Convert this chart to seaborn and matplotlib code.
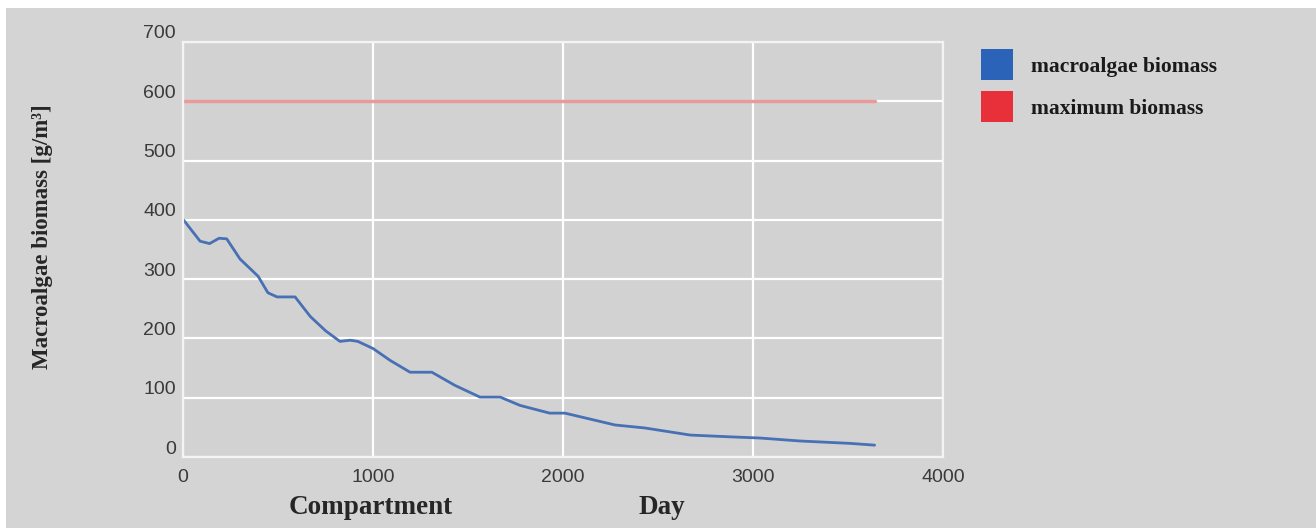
import numpy as np
import pandas as pd
import matplotlib.pyplot as plt
import matplotlib.transforms as mtransforms
from matplotlib.patches import Rectangle
import seaborn as sns

# values
days = [0, 90, 140, 190, 230, 300, 395, 447, 495, 590, 670, 750, 826, 880, 920,
        1000, 1090, 1195, 1310, 1430, 1563, 1670, 1774, 1930, 2010, 2274, 2430,
        2670, 2880, 3037, 3247, 3510, 3640]
biomass = [401, 364, 360, 369, 368, 334, 305, 277, 270, 270, 237, 213, 195, 197, 195,
           183, 163, 143, 143, 121, 101, 101, 87, 74, 74, 54, 49,
           37, 34, 32, 27, 23, 20]
max_days = [0, 3640]
max_biomass = [600, 600]

legend_labels = ["macroalgae biomass", "maximum biomass"]
legend_colors = ["#2a63b8", "#e8303a"]
x_ticks = [0, 1000, 2000, 3000, 4000]
y_ticks = [0, 100, 200, 300, 400, 500, 600, 700]

df = pd.DataFrame({"day": days, "biomass": biomass})
df_max = pd.DataFrame({"day": max_days, "biomass": max_biomass})

sns.set_style("whitegrid", {"axes.facecolor": "#d2d2d2", "grid.color": "white"})
plt.rcParams["font.family"] = ["Liberation Sans", "DejaVu Sans"]

W, H = 1316, 528
fig = plt.figure(figsize=(W / 100, H / 100), dpi=100, facecolor="white")
fig.patches.append(Rectangle((6 / W, 0), 1, 1 - 8 / H, transform=fig.transFigure,
                             facecolor="#d4d4d4", edgecolor="none", zorder=-10))
ax = fig.add_axes([183 / W, 1 - 457 / H, 760 / W, 415 / H])

sns.lineplot(data=df_max, x="day", y="biomass", ax=ax, color="#e99a9a", linewidth=2.5)
sns.lineplot(data=df, x="day", y="biomass", ax=ax, color="#4870b4", linewidth=2)

ax.set_xlim(0, 4000)
ax.set_ylim(0, 700)
ax.set_xticks(x_ticks)
ax.set_yticks(y_ticks)
ax.grid(True, color="white", linewidth=1.6)
ax.tick_params(axis="both", length=0, labelsize=14, labelcolor="#3a3a3a")
ax.tick_params(axis="x", pad=9)
ax.tick_params(axis="y", pad=5)
for s in ax.spines.values():
    s.set_color("#f4f4f4")
    s.set_linewidth(1.6)

# y labels sit a little above their gridlines
shift = mtransforms.ScaledTranslation(0, 0.1, fig.dpi_scale_trans)
for lab in ax.get_yticklabels():
    lab.set_transform(lab.get_transform() + shift)

ax.set_xlabel("")
ax.set_ylabel("")
serif = ["Liberation Serif", "DejaVu Serif"]
fig.text(43 / W, 1 - 237 / H, "Macroalgae biomass [g/m\u00b3]", rotation=90,
         ha="center", va="center", fontsize=16.5, fontweight="bold", family=serif)
fig.text(371 / W, 1 - 507 / H, "Compartment", ha="center", va="center",
         fontsize=19.5, fontweight="bold", family=serif)
fig.text(662 / W, 1 - 507 / H, "Day", ha="center", va="center",
         fontsize=19.5, fontweight="bold", family=serif)

# legend drawn by hand: big colour squares beside bold serif labels
for i, (lab, col) in enumerate(zip(legend_labels, legend_colors)):
    top = 49 + i * 42
    fig.patches.append(Rectangle((981 / W, 1 - (top + 31) / H), 32 / W, 31 / H,
                                 transform=fig.transFigure, facecolor=col, edgecolor="none"))
    fig.text(1031 / W, 1 - (top + 18) / H, lab, ha="left", va="center",
             fontsize=15.5, fontweight="bold", family=serif, color="#1a1a1a")

fig.savefig("out.png", dpi=100, facecolor=fig.get_facecolor())
